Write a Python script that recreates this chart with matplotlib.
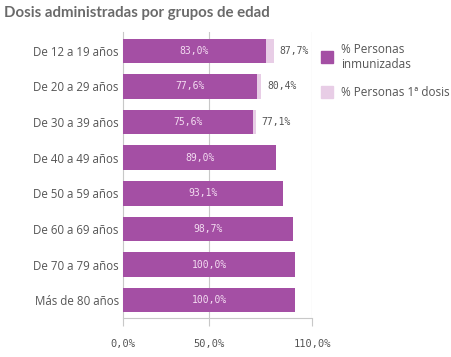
import matplotlib.pyplot as plt
from matplotlib.patches import Rectangle

# data
grupos = ["De 12 a 19 años", "De 20 a 29 años", "De 30 a 39 años", "De 40 a 49 años",
          "De 50 a 59 años", "De 60 a 69 años", "De 70 a 79 años", "Más de 80 años"]
inmunizadas = [83.0, 77.6, 75.6, 89.0, 93.1, 98.7, 100.0, 100.0]
primera_dosis = [87.7, 80.4, 77.1, None, None, None, None, None]
xticks = [0, 50, 110]
xtick_labels = ["0,0%", "50,0%", "110,0%"]

dark = "#a44fa4"
light = "#e8cde6"
grey_txt = "#555555"
mono = "DejaVu Sans Mono"
sans = "Open Sans"

fig = plt.figure(figsize=(4.52, 3.57), dpi=100)
ax = fig.add_axes([0.2721, 0.1084, 0.691 - 0.2721, 0.802])

y = list(range(len(grupos)))
for i in y:
    if primera_dosis[i] is not None:
        ax.barh(i, primera_dosis[i], height=0.69, color=light, zorder=2)
        ax.text(primera_dosis[i] + 3.2, i, f"{primera_dosis[i]:.1f}%".replace(".", ","),
                va="center", ha="left", fontsize=7, family=mono, color=grey_txt)
    ax.barh(i, inmunizadas[i], height=0.69, color=dark, zorder=3)
    ax.text(inmunizadas[i] / 2, i, f"{inmunizadas[i]:.1f}%".replace(".", ","),
            va="center", ha="center", fontsize=7, family=mono, color="#f3dcf1", zorder=4)

ax.set_xlim(0, 110)
ax.set_ylim(7.51, -0.53)
ax.set_yticks(y)
ax.set_yticklabels(grupos, fontsize=8.3, family=sans, color=grey_txt)
ax.set_xticks(xticks)
ax.set_xticklabels(xtick_labels, fontsize=7.5, family=mono, color=grey_txt)
ax.tick_params(axis="y", length=0, pad=3)
ax.tick_params(axis="x", length=6, width=0.8, color="#c8c8c8", pad=9)
for x in xticks[1:]:
    ax.axvline(x, color="#c8c8c8", lw=0.8, zorder=1)
for s in ["top", "right"]:
    ax.spines[s].set_visible(False)
for s in ["left", "bottom"]:
    ax.spines[s].set_color("#c8c8c8")
    ax.spines[s].set_linewidth(0.8)

# title
fig.text(4 / 452, 1 - 12.5 / 357, "Dosis administradas por grupos de edad", fontsize=10.8,
         fontweight="bold", family="Lato", color="#6a6a6a", va="center", ha="left")

# legend
W, H = 452, 357
fig.patches.append(Rectangle((321 / W, 1 - 63 / H), 12 / W, 12 / H, color=dark,
                             transform=fig.transFigure, figure=fig))
fig.patches.append(Rectangle((321 / W, 1 - 98 / H), 12 / W, 12 / H, color=light,
                             transform=fig.transFigure, figure=fig))
fig.text(341 / W, 1 - 57 / H, "% Personas\ninmunizadas", fontsize=8.5, family=sans,
         color=grey_txt, va="center", ha="left", linespacing=1.25)
fig.text(341 / W, 1 - 92 / H, "% Personas 1ª dosis", fontsize=8.5, family=sans,
         color=grey_txt, va="center", ha="left")

fig.savefig("out.png", dpi=100)
